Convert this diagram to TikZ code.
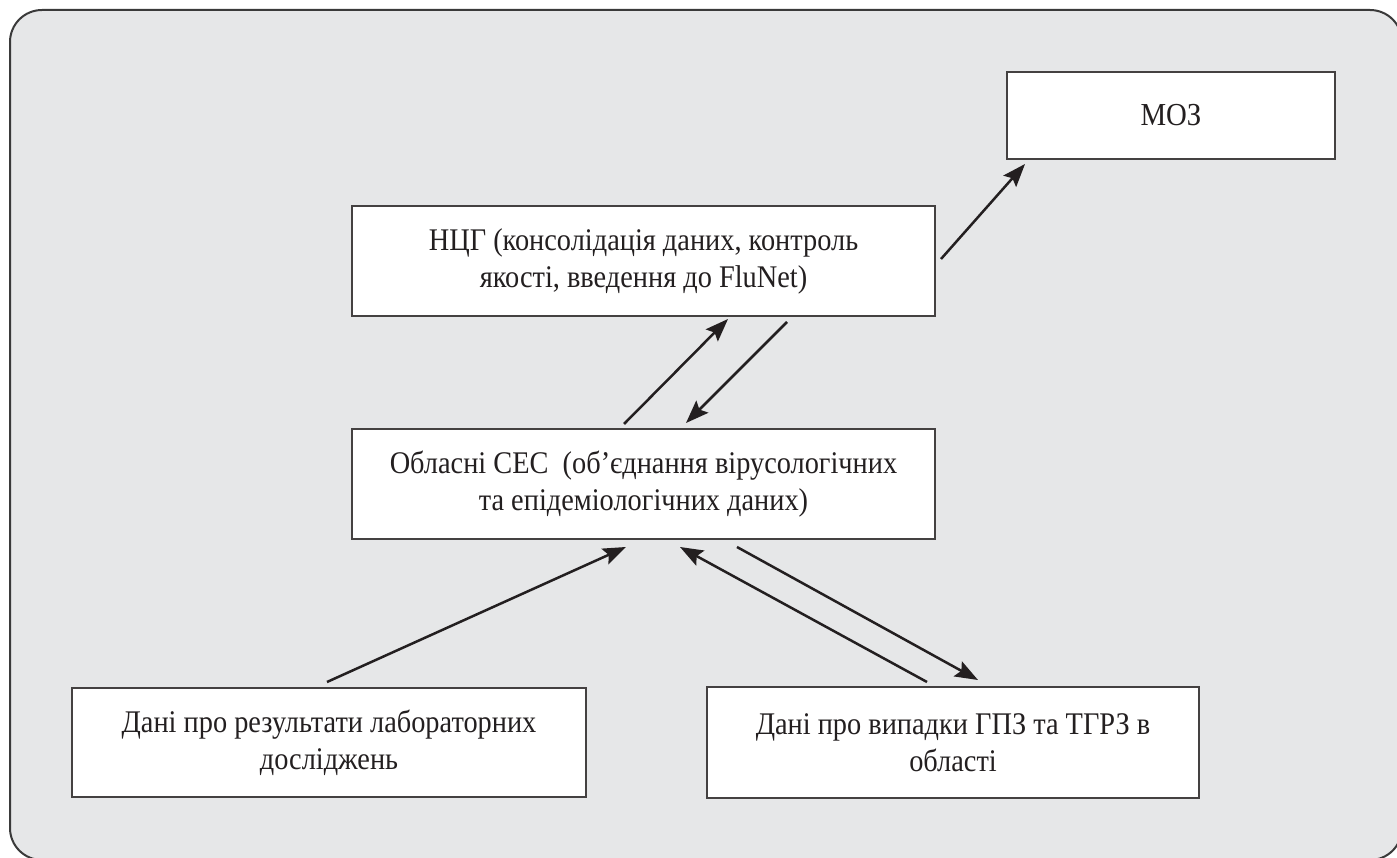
\documentclass[tikz,border=0pt]{standalone}
\usepackage{fontspec}
\setmainfont{Liberation Serif}[FakeStretch=0.9]
\usetikzlibrary{arrows.meta}
\definecolor{bgcol}{HTML}{E6E7E8}
\definecolor{inkcol}{HTML}{231F20}
\definecolor{framecol}{HTML}{3A3A3A}
\tikzset{
  box/.style={draw=inkcol!85, line width=1.5pt, fill=white, align=center,
    inner sep=0pt, font=\fontsize{31.5}{37}\selectfont, text=inkcol},
  flow/.style={draw=inkcol, line width=2.5pt,
    -{Stealth[length=23pt,width=17pt,inset=4pt]}}
}
\begin{document}
\begin{tikzpicture}[x=1pt,y=-1pt]
\useasboundingbox (0,0) rectangle (1397,858);
\clip (0,0) rectangle (1397,858);
\draw[framecol, line width=2pt, fill=bgcol, rounded corners=32pt] (10,10) rectangle (1402,860);

\node[box, minimum width=328pt, minimum height=87pt, font=\fontsize{32}{37}\selectfont] (moz) at (1171,115.5) {МОЗ};
\node[box, minimum width=583pt, minimum height=110pt] (ncg) at (643.5,261)
  {НЦГ (консолідація даних, контроль\\якості, введення до FluNet)};
\node[box, minimum width=583pt, minimum height=110pt] (ses) at (643.5,484)
  {Обласні СЕС\ \ (об’єднання вірусологічних\\та епідеміологічних даних)};
\node[box, minimum width=514pt, minimum height=109pt] (lab) at (329,742.5)
  {Дані про результати лабораторних\\досліджень};
\node[box, minimum width=492pt, minimum height=111pt] (cases) at (953,742.5)
  {Дані про випадки ГПЗ та ТГРЗ в\\області};

\coordinate (a1s) at (941,259);  \coordinate (a1e) at (1025,164);
\coordinate (a2s) at (624,424);  \coordinate (a2e) at (728,319);
\coordinate (a3s) at (787,322);  \coordinate (a3e) at (686,423);
\coordinate (a4s) at (327,682);  \coordinate (a4e) at (626,547);
\coordinate (a5s) at (927,682);  \coordinate (a5e) at (680,547);
\coordinate (a6s) at (737,547);  \coordinate (a6e) at (978,680);

\draw[flow] (a1s) -- (a1e);
\draw[flow] (a2s) -- (a2e);
\draw[flow] (a3s) -- (a3e);
\draw[flow] (a4s) -- (a4e);
\draw[flow] (a5s) -- (a5e);
\draw[flow] (a6s) -- (a6e);
\end{tikzpicture}
\end{document}
